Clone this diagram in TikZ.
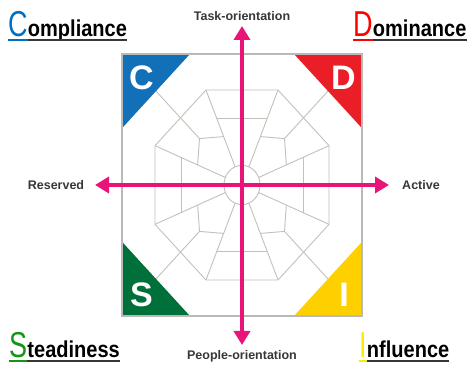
\documentclass[tikz,border=0pt]{standalone}
\usepackage{fontspec}
\setmainfont{Liberation Sans}
\usetikzlibrary{arrows.meta}
\definecolor{discblue}{RGB}{18,112,184}
\definecolor{discred}{RGB}{234,30,38}
\definecolor{discgreen}{RGB}{0,112,58}
\definecolor{discyellow}{RGB}{255,208,0}
\definecolor{titleblue}{RGB}{0,112,192}
\definecolor{titlered}{RGB}{255,0,0}
\definecolor{titlegreen}{RGB}{20,150,20}
\definecolor{titleyellow}{RGB}{250,235,0}
\definecolor{discpink}{RGB}{232,20,122}
\definecolor{webgray}{RGB}{196,191,184}
\definecolor{framegray}{RGB}{185,185,185}
\definecolor{labelgray}{RGB}{55,55,55}

\begin{document}
\begin{tikzpicture}[x=1pt, y=-1pt,
  webline/.style={draw=webgray, line width=0.9pt},
  axisarrow/.style={draw=discpink, line width=4pt,
    {Triangle[length=14pt,width=16pt]}-{Triangle[length=14pt,width=16pt]}},
  axislabel/.style={text=labelgray, font=\bfseries\fontsize{12.5}{13}\selectfont, inner sep=0pt},
  cornerletter/.style={text=white, font=\bfseries\fontsize{34}{34}\selectfont, inner sep=0pt},
  titlefirst/.style={font=\fontsize{36}{36}\selectfont, inner sep=0pt, xscale=0.75, anchor=base west},
  titlerest/.style={font=\bfseries\fontsize{23}{23}\selectfont, inner sep=0pt, xscale=0.87, anchor=base west}]
  \useasboundingbox (0,0) rectangle (467,366);

  % Web of the DISC map (drawn square, stretched to the frame)
  \begin{scope}[shift={(242,185)}, yscale=1.092]
    \draw[webline] (22.5:94.17) \foreach \k in {1,...,7}{ -- (22.5+45*\k:94.17)} -- cycle;
    \draw[webline] (0,0) circle (18);
    \foreach \k in {0,...,7}
      \draw[webline] (22.5+45*\k:18) -- (22.5+45*\k:94.17);
    % inner ring in the diagonal sectors
    \foreach \d in {45,135,225,315}{
      \draw[webline] (\d-22.5:48) -- (\d:60.1) -- (\d+22.5:48);
      \draw[webline] (\d:60.1) -- (\d:169.7);
    }
    % outer ring across the axes
    \foreach \a in {0,90,180,270}
      \draw[webline] (\a-22.5:66) -- (\a+22.5:66);

    % Corner triangles
    \fill[discblue] (-120,-120) -- (-52,-120) -- (-120,-52) -- cycle;
    \fill[discred] (120,-120) -- (52,-120) -- (120,-52) -- cycle;
    \fill[discgreen] (-120,120) -- (-52,120) -- (-120,52) -- cycle;
    \fill[discyellow] (120,120) -- (52,120) -- (120,52) -- cycle;
    \draw[framegray, line width=1.2pt] (-120,-120) rectangle (120,120);
  \end{scope}

  \node[cornerletter] (cc) at (141.5,77.5) {C};
  \node[cornerletter] (dd) at (343.5,77.5) {D};
  \node[cornerletter] (ss) at (141.5,295) {S};
  \node[cornerletter] (ii) at (344,295) {I};

  % Axes
  \node[axislabel] (task) at (242,16) {Task-orientation};
  \node[axislabel] (people) at (242,356) {People-orientation};
  \node[axislabel] (reserved) at (56,185) {Reserved};
  \node[axislabel] (active) at (421,185) {Active};
  \coordinate (tasktip) at (242,26);
  \coordinate (peopletip) at (242,345);
  \coordinate (reservedtip) at (95,185);
  \coordinate (activetip) at (389,185);
  \draw[axisarrow] (peopletip) -- (tasktip);
  \draw[axisarrow] (reservedtip) -- (activetip);

  % Titles
  \node[titlefirst, text=titleblue] (cfirst) at (8,37) {C};
  \node[titlerest] (crest) at (cfirst.base east) {ompliance};
  \node[titlefirst, text=titlered] (dfirst) at (353,37) {D};
  \node[titlerest] (drest) at (dfirst.base east) {ominance};
  \node[titlefirst, text=titlegreen] (sfirst) at (9,358) {S};
  \node[titlerest] (srest) at (sfirst.base east) {teadiness};
  \node[titlefirst, text=titleyellow] (ifirst) at (359,358) {I};
  \node[titlerest] (irest) at (ifirst.base east) {nfluence};
  \foreach \f/\r/\c in {cfirst/crest/titleblue, dfirst/drest/titlered,
                        sfirst/srest/titlegreen, ifirst/irest/titleyellow}{
    \draw[\c, line width=2pt] ([yshift=-3.5pt]\f.base west) -- ([yshift=-3.5pt]\f.base east);
    \draw[labelgray, line width=2pt] ([yshift=-3.5pt]\r.base west) -- ([yshift=-3.5pt]\r.base east);
  }
\end{tikzpicture}
\end{document}
